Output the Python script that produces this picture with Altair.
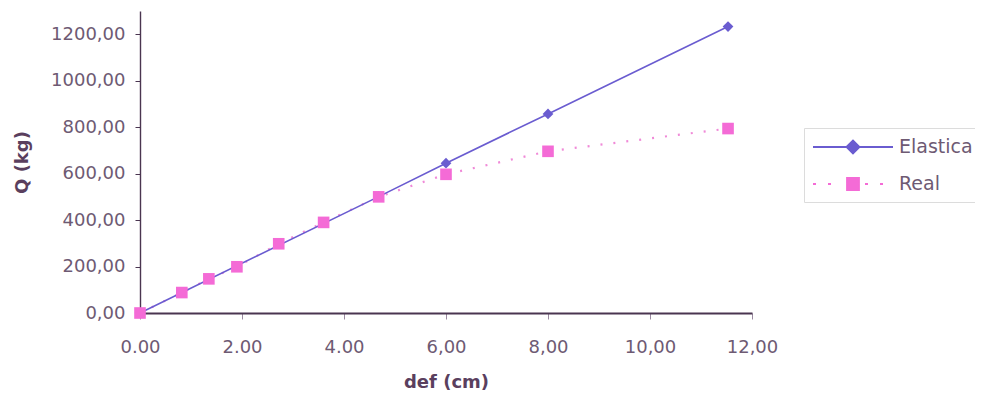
import altair as alt
import pandas as pd

# ---- data ----
real_x = [0.0, 0.82, 1.35, 1.9, 2.72, 3.6, 4.68, 6.0, 8.0, 11.53]
real_q = [0, 88, 147, 199, 298, 390, 500, 597, 696, 794]
elastica_x = [0.0, 4.68, 6.0, 8.0, 11.53]
elastica_q = [0, 501, 645, 857, 1233]

series_names = ["Elastica", "Real"]
series_colors = ["#6a5cd0", "#f46bd6"]

x_tick_values = [0, 2, 4, 6, 8, 10, 12]
x_tick_labels = ["0.00", "2.00", "4.00", "6,00", "8,00", "10,00", "12,00"]
y_tick_values = [0, 200, 400, 600, 800, 1000, 1200]

df_el = pd.DataFrame({"def": elastica_x, "Q": elastica_q, "serie": series_names[0]})
df_re = pd.DataFrame({"def": real_x, "Q": real_q, "serie": series_names[1]})
df_all = pd.concat([df_el, df_re], ignore_index=True)

TXT = "#6e5a73"
FONT = "DejaVu Sans"

x_label_expr = "[" + ",".join("'%s'" % s for s in x_tick_labels) + "][round(datum.value/2)]"

x_enc = alt.X(
    "def:Q",
    scale=alt.Scale(domain=[0, 12], nice=False, zero=False),
    axis=alt.Axis(
        values=x_tick_values, labelExpr=x_label_expr, title="def (cm)",
        grid=False, tickSize=6, labelPadding=19, tickColor="#9a8aa0",
        domainColor="#4a3550", domainWidth=2.2, titlePadding=17,
        labelFlush=False,
    ),
)
y_enc = alt.Y(
    "Q:Q",
    scale=alt.Scale(domain=[0, 1300], nice=False),
    axis=alt.Axis(
        values=y_tick_values,
        labelExpr="replace(format(datum.value, '.2f'), '.', ',')",
        title="Q (kg)", grid=False, tickSize=5, labelPadding=10,
        tickColor="#4a3550", domainColor="#4a3550", domainWidth=1.4,
        titlePadding=19, labelFlush=False,
    ),
)

# legend symbols: line + marker drawn as custom paths (units of 10 px)
elastica_path = "M-4,0H4M-0.65,0L0,-0.65L0.65,0L0,0.65Z"
real_path = "M-4,0H-3.7M-2.5,0H-2.2M-0.6,-0.6H0.6V0.6H-0.6ZM1.2,0H1.5M2.7,0H3"

legend = alt.Legend(
    title=None, orient="none", legendX=664, legendY=117,
    symbolSize=400, symbolStrokeWidth=1.8, symbolOpacity=1, symbolOffset=30,
    labelFontSize=19, labelColor=TXT, labelFont=FONT,
    labelOffset=35, rowPadding=15, padding=8, strokeColor="#dcdcdc",
)
color_scale = alt.Scale(domain=series_names, range=series_colors)
shape_scale = alt.Scale(domain=series_names, range=[elastica_path, real_path])

real_line = alt.Chart(df_re).mark_line(
    color="#f08ad8", strokeDash=[2, 11], strokeWidth=2.2
).encode(x=x_enc, y=y_enc)

el_line = alt.Chart(df_el).mark_line(
    color=series_colors[0], strokeWidth=1.6
).encode(x=x_enc, y=y_enc)

el_pts = alt.Chart(df_el).mark_point(
    filled=True, shape="diamond", size=115, opacity=1, color=series_colors[0]
).encode(x=x_enc, y=y_enc)

re_pts = alt.Chart(df_re).mark_point(
    filled=True, shape="square", size=135, opacity=1, color=series_colors[1]
).encode(x=x_enc, y=y_enc)

# legend-only layer (no rows survive the filter)
legend_layer = alt.Chart(df_all).mark_point(
    filled=True, strokeWidth=1.8, opacity=1
).encode(
    x=x_enc, y=y_enc,
    color=alt.Color("serie:N", scale=color_scale, legend=legend),
    stroke=alt.Stroke("serie:N", scale=color_scale, legend=legend),
    shape=alt.Shape("serie:N", scale=shape_scale, legend=legend),
).transform_filter("false")

chart = (
    alt.layer(real_line, el_line, el_pts, re_pts, legend_layer)
    .properties(
        width=612, height=302,
        autosize=alt.AutoSizeParams(type="none"),
        padding={"left": 132, "top": 3, "right": 223, "bottom": 82},
        background="white",
    )
    .configure_view(stroke=None)
    .configure_axis(
        labelFont=FONT, labelFontSize=18, labelColor=TXT,
        titleFont=FONT, titleFontSize=18, titleColor="#5a3f5e", titleFontWeight="bold",
    )
)

chart.save("out.html", embed_options={"renderer": "svg", "actions": False})
